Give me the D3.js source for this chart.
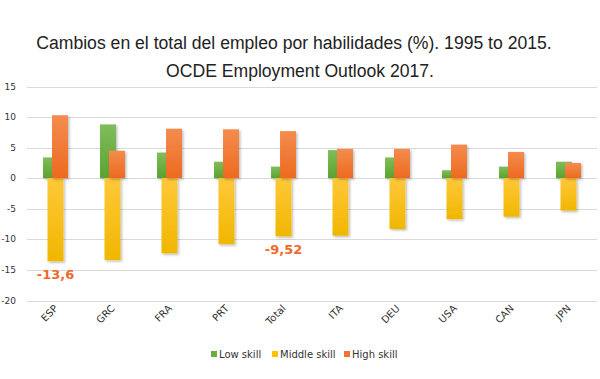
<!DOCTYPE html>
<html>
<head>
<meta charset="utf-8">
<script src="https://cdn.jsdelivr.net/npm/d3@7"></script>
<style>
  body { margin: 0; background: #fff; }
  svg { display: block; }
  .grid line { stroke: #d9d9d9; stroke-width: 1; }
</style>
</head>
<body>
<svg id="chart" width="600" height="379"></svg>
<script>
// data
var countries = ["ESP","GRC","FRA","PRT","Total","ITA","DEU","USA","CAN","JPN"];
var lowSkill    = [3.4, 8.8, 4.2, 2.7, 1.9, 4.6, 3.4, 1.3, 1.9, 2.7];
var middleSkill = [-13.6, -13.4, -12.3, -10.8, -9.52, -9.4, -8.3, -6.7, -6.3, -5.3];
var highSkill   = [10.3, 4.5, 8.1, 8.0, 7.7, 4.8, 4.8, 5.5, 4.3, 2.5];
var seriesNames = ["Low skill", "Middle skill", "High skill"];
var yTicks = [15, 10, 5, 0, -5, -10, -15, -20];
var highlighted = [{country: "ESP", label: "-13,6"}, {country: "Total", label: "-9,52"}];

var svg = d3.select("#chart");

var x = d3.scaleBand().domain(countries).range([27, 597]).padding(0);
var y = d3.scaleLinear().domain([-20, 15]).range([300.5, 86.5]);

// gradients
var defs = svg.append("defs");
var grads = [
  {id: "gLow", top: "#80bd5a", bot: "#5ba22f"},
  {id: "gMid", top: "#ffc83a", bot: "#f0b700"},
  {id: "gHigh", top: "#f48c4e", bot: "#ed6a1f"}
];
grads.forEach(function(g){
  var lg = defs.append("linearGradient").attr("id", g.id)
    .attr("x1", 0).attr("y1", 0).attr("x2", 0).attr("y2", 1);
  lg.append("stop").attr("offset", "0%").attr("stop-color", g.top);
  lg.append("stop").attr("offset", "100%").attr("stop-color", g.bot);
});
var f = defs.append("filter").attr("id", "shadow")
  .attr("x", "-30%").attr("y", "-10%").attr("width", "160%").attr("height", "130%");
f.append("feDropShadow").attr("dx", 1.5).attr("dy", 1.5).attr("stdDeviation", 1)
  .attr("flood-color", "#000").attr("flood-opacity", 0.25);

// title
svg.append("text").attr("x", 294).attr("y", 49).attr("text-anchor", "middle")
  .style("font-family", "Liberation Sans, Arial, sans-serif").style("font-size", "17.6px")
  .attr("fill", "#222").text("Cambios en el total del empleo por habilidades (%). 1995 to 2015.");
svg.append("text").attr("x", 300).attr("y", 77).attr("text-anchor", "middle")
  .style("font-family", "Liberation Sans, Arial, sans-serif").style("font-size", "17.6px")
  .attr("fill", "#222").text("OCDE Employment Outlook 2017.");

// grid + y axis
var grid = svg.append("g").attr("class", "grid");
grid.selectAll("line").data(yTicks).enter().append("line")
  .attr("x1", 27).attr("x2", 597)
  .attr("y1", function(d){ return Math.round(y(d)) + 0.5; })
  .attr("y2", function(d){ return Math.round(y(d)) + 0.5; });

svg.append("g").selectAll("text").data(yTicks).enter().append("text")
  .attr("x", 16).attr("y", function(d){ return y(d) + 3; })
  .attr("text-anchor", "end")
  .style("font-family", "DejaVu Sans, sans-serif").style("font-size", "9px")
  .attr("fill", "#333").text(function(d){ return d; });

// bars
var bw = x.bandwidth() * 0.28, off = 4.5;
var series = [
  {vals: lowSkill, fill: "url(#gLow)", dx: -bw/2 - off},
  {vals: middleSkill, fill: "url(#gMid)", dx: -bw/2},
  {vals: highSkill, fill: "url(#gHigh)", dx: -bw/2 + off}
];
series.forEach(function(s){
  svg.append("g").attr("filter", "url(#shadow)").selectAll("rect").data(countries).enter().append("rect")
    .attr("x", function(d){ return x(d) + x.bandwidth()/2 + s.dx; })
    .attr("width", bw)
    .attr("y", function(d, i){ return y(Math.max(0, s.vals[i])); })
    .attr("height", function(d, i){ return Math.abs(y(s.vals[i]) - y(0)); })
    .attr("fill", s.fill);
});

// highlighted labels
highlighted.forEach(function(h){
  var i = countries.indexOf(h.country);
  svg.append("text")
    .attr("x", x(h.country) + x.bandwidth()/2)
    .attr("y", y(middleSkill[i]) + 18)
    .attr("text-anchor", "middle")
    .style("font-family", "DejaVu Sans, sans-serif").style("font-size", "13px").style("font-weight", "bold")
    .attr("fill", "#f0692a").text(h.label);
});

// x labels
svg.append("g").selectAll("text").data(countries).enter().append("text")
  .attr("transform", function(d){ return "translate(" + (x(d) + x.bandwidth()/2 + 3) + ",309) rotate(-45)"; })
  .attr("text-anchor", "end")
  .style("font-family", "DejaVu Sans, sans-serif").style("font-size", "10px")
  .attr("fill", "#333").text(function(d){ return d; });

// legend
var legColors = ["#6aae42", "#ffc000", "#ef7632"];
var legX = [211, 272, 344];
var leg = svg.append("g");
seriesNames.forEach(function(n, i){
  leg.append("rect").attr("x", legX[i]).attr("y", 351).attr("width", 6).attr("height", 6).attr("fill", legColors[i]);
  leg.append("text").attr("x", legX[i] + 8).attr("y", 358)
    .style("font-family", "DejaVu Sans, sans-serif").style("font-size", "10px")
    .attr("fill", "#333").text(n);
});
</script>
</body>
</html>
